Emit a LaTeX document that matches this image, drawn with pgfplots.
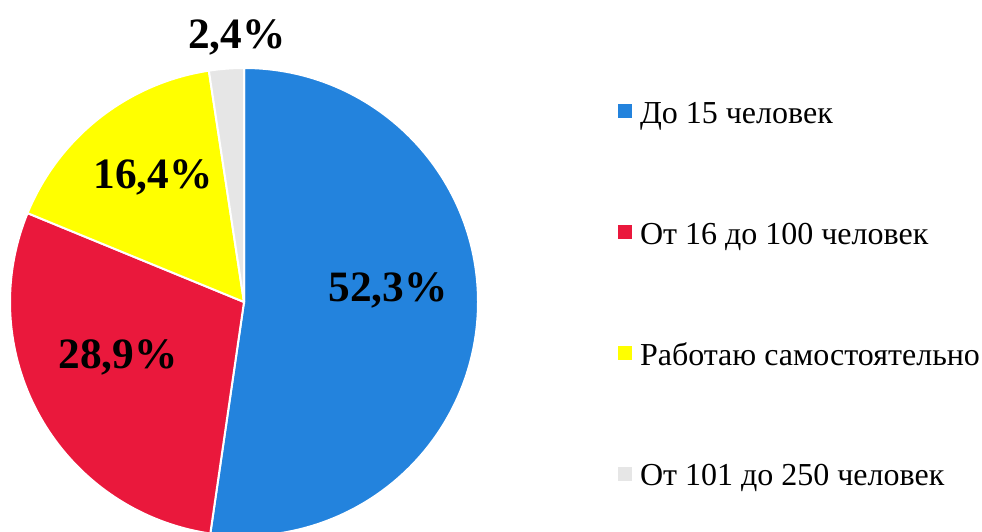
\documentclass[border=0pt]{standalone}
\usepackage{fontspec}
\setmainfont{Liberation Serif}
\usepackage{pgfplots}
\pgfplotsset{compat=1.18}
\definecolor{pieblue}{RGB}{35,131,221}
\definecolor{piered}{RGB}{234,24,60}
\definecolor{pieyellow}{RGB}{255,255,0}
\definecolor{piegrey}{RGB}{230,230,230}
\begin{document}
\begin{tikzpicture}
\begin{axis}[
    scale only axis,
    width=736.5pt, height=399pt,
    xmin=0, xmax=982, ymin=0, ymax=532,
    hide axis, clip=false,
    legend cell align=left,
    legend image code/.code={\fill[#1, draw=none] (0pt,-1.5pt) rectangle (10.5pt,9pt);},
    legend style={
        at={(axis cs:618,429)}, anchor=north west,
        draw=none, fill=none, inner sep=0pt, outer sep=0pt,
        font=\fontsize{24}{28}\selectfont,
        nodes={inner sep=0pt, text height=15pt, text depth=5pt},
        row sep=70.75pt, column sep=6pt,
    },
]
\coordinate (bl) at (axis cs:0,0);
\coordinate (tr) at (axis cs:982,532);
% slices clockwise from 12 o'clock, values in percent
\pgfplotsextra{
  \gdef\angA{90}
  \foreach \p/\c in {52.3/pieblue, 28.9/piered, 16.4/pieyellow, 2.4/piegrey}{
    \pgfmathsetmacro\angB{\angA-3.6*\p}
    \fill[\c, draw=white, line width=1.5pt] (axis cs:244,230) -- ++(\angA:175.5pt)
      arc[start angle=\angA, end angle=\angB, radius=175.5pt] -- cycle;
    \global\let\angA\angB
  }
}
\addlegendimage{fill=pieblue}
\addlegendentry{До 15 человек}
\addlegendimage{fill=piered}
\addlegendentry{От 16 до 100 человек}
\addlegendimage{fill=pieyellow}
\addlegendentry{Работаю самостоятельно}
\addlegendimage{fill=piegrey}
\addlegendentry{От 101 до 250 человек}
\begin{scope}[every node/.style={font=\bfseries\fontsize{32.5}{38}\selectfont}]
\node at (axis cs:388,242) {52,3\%};
\node at (axis cs:118,175) {28,9\%};
\node at (axis cs:153,355) {16,4\%};
\node at (axis cs:237,495) {2,4\%};
\end{scope}
\end{axis}
\pgfresetboundingbox
\path (bl) rectangle (tr);
\end{tikzpicture}
\end{document}
